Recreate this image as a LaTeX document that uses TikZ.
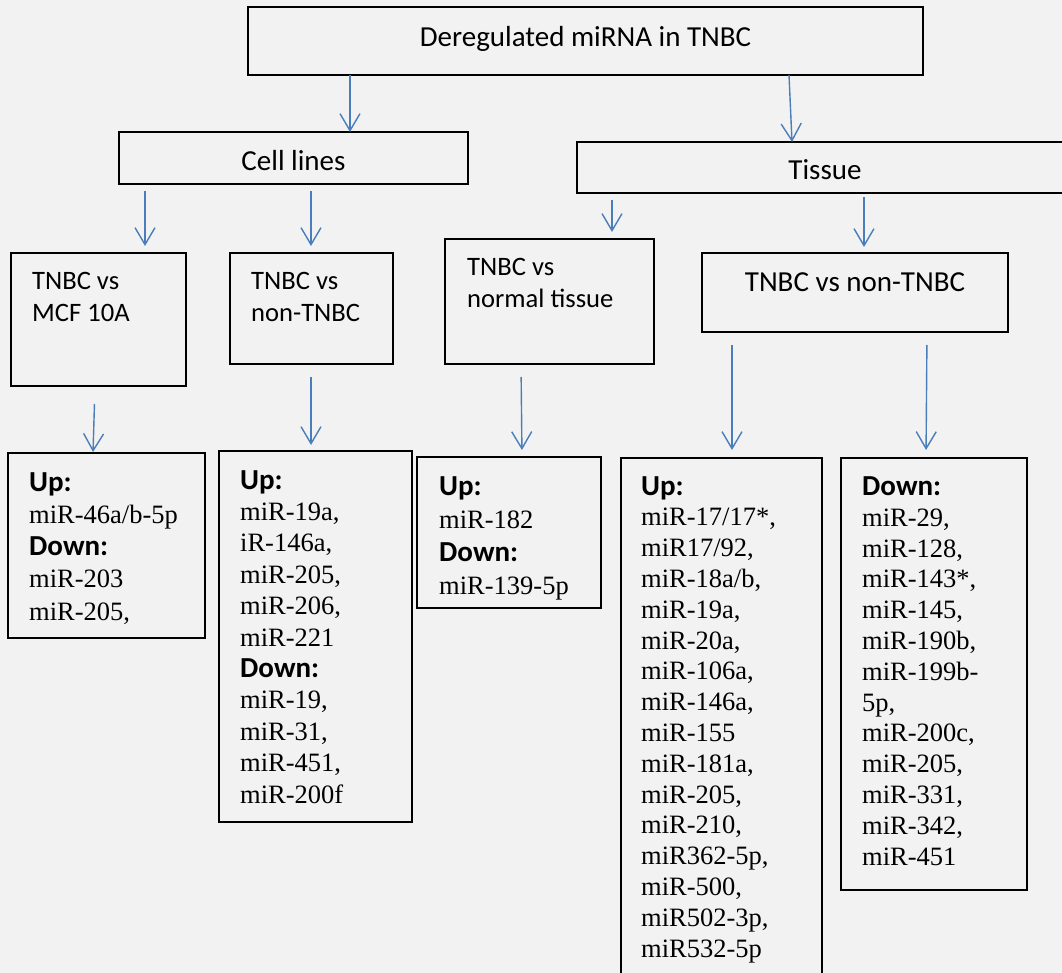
\documentclass[tikz,border=0pt]{standalone}
\usepackage{fontspec}
\setmainfont{Liberation Serif}
\newfontfamily\calfont{Carlito}
\usetikzlibrary{arrows.meta,fit}
\definecolor{bgcol}{HTML}{F2F2F2}
\definecolor{arrowblue}{HTML}{4A7EBB}
\newcommand{\hd}[1]{{\calfont\bfseries\fontsize{29}{30}\selectfont #1}}
\begin{document}
\begin{tikzpicture}[x=1pt,y=-1pt,
  box/.style={draw=black, line width=1.8pt, inner sep=0pt, outer sep=0pt},
  arr/.style={draw=arrowblue, line width=1.4pt, -{Straight Barb[length=17pt,width=20pt]}},
  bigtext/.style={anchor=base, inner sep=0pt, font=\calfont\fontsize{29}{35}\selectfont},
  smalltext/.style={anchor=base west, inner sep=0pt, align=left, font=\calfont\fontsize{26.6}{32.4}\selectfont},
  listtext/.style={anchor=base west, inner sep=0pt, align=left, font=\fontsize{26.5}{#1}\selectfont},
]
\useasboundingbox (0,0) rectangle (1062,973);
\clip (0,0) rectangle (1062,973);
\fill[bgcol] (0,0) rectangle (1062,973);

% boxes
\node[box, fit={(248,7) (923,75)}] (top) {};
\node[box, fit={(119,132) (468,184)}] (cell) {};
\node[box, fit={(577,142) (1073,193)}] (tissue) {};
\node[box, fit={(11,253) (186,386)}] (mcf) {};
\node[box, fit={(230,253) (393,364)}] (cellnon) {};
\node[box, fit={(445,239) (654,364)}] (normal) {};
\node[box, fit={(702,253) (1008,332)}] (tissnon) {};
\node[box, fit={(8,453) (205,638)}] (upmcf) {};
\node[box, fit={(219,451) (412,822)}] (upcell) {};
\node[box, fit={(417,457) (601,608)}] (upnormal) {};
\node[box, fit={(621,458) (822,990)}] (uptiss) {};
\node[box, fit={(841,458) (1027,890)}] (downtiss) {};

% texts (multi-line nodes are anchored at the baseline of their last line)
\node[bigtext] (ttop) at (585.5,47) {Deregulated miRNA in TNBC};
\node[bigtext] (tcell) at (293.5,171) {Cell lines};
\node[bigtext] (ttissue) at (825,180) {Tissue};
\node[bigtext] (ttissnon) at (855,292) {TNBC vs non-TNBC};
\node[smalltext] (tmcf) at (32,322) {TNBC vs\\MCF 10A};
\node[smalltext] (tcellnon) at (251,322) {TNBC vs\\non-TNBC};
\node[smalltext] (tnormal) at (467,308) {TNBC vs\\normal tissue};

\node[listtext=32.25] (lupmcf) at (29,620) {\hd{Up:}\\miR-46a/b-5p\\\hd{Down:}\\miR-203\\miR-205,};
\node[listtext=31.4] (lupcell) at (240,803) {\hd{Up:}\\miR-19a,\\iR-146a,\\miR-205,\\miR-206,\\miR-221\\\hd{Down:}\\miR-19,\\miR-31,\\miR-451,\\miR-200f};
\node[listtext=33] (lupnormal) at (439,594) {\hd{Up:}\\miR-182\\\hd{Down:}\\miR-139-5p};
\node[listtext=30.8] (luptiss) at (641,957) {\hd{Up:}\\miR-17/17*,\\miR17/92,\\miR-18a/b,\\miR-19a,\\miR-20a,\\miR-106a,\\miR-146a,\\miR-155\\miR-181a,\\miR-205,\\miR-210,\\miR362-5p,\\miR-500,\\miR502-3p,\\miR532-5p};
\node[listtext=30.8] (ldowntiss) at (862,865) {\hd{Down:}\\miR-29,\\miR-128,\\miR-143*,\\miR-145,\\miR-190b,\\miR-199b-\\5p,\\miR-200c,\\miR-205,\\miR-331,\\miR-342,\\miR-451};

% arrows
\draw[arr] (top.south -| 350,0) -- (cell.north -| 350,0);
\draw[arr] (top.south -| 789,0) -- (tissue.north -| 792,0);
\draw[arr, shorten <=7pt, shorten >=7pt] (cell.south -| 145,0) -- (mcf.north -| 145,0);
\draw[arr, shorten <=7pt, shorten >=7pt] (cell.south -| 311,0) -- (cellnon.north -| 311,0);
\draw[arr, shorten <=7pt, shorten >=7pt] (tissue.south -| 612,0) -- (normal.north -| 612,0);
\draw[arr, shorten <=4pt, shorten >=6pt] (tissue.south -| 864,0) -- (tissnon.north -| 864,0);
\draw[arr, shorten <=18pt, shorten >=1pt] (mcf.south -| 95,0) -- (upmcf.north -| 93,0);
\draw[arr, shorten <=13pt, shorten >=6pt] (cellnon.south -| 311,0) -- (upcell.north -| 311,0);
\draw[arr, shorten <=13pt, shorten >=7pt] (normal.south -| 521,0) -- (upnormal.north -| 522,0);
\draw[arr, shorten <=13pt, shorten >=8pt] (tissnon.south -| 732,0) -- (uptiss.north -| 732,0);
\draw[arr, shorten <=13pt, shorten >=8pt] (tissnon.south -| 927,0) -- (downtiss.north -| 926,0);
\end{tikzpicture}
\end{document}
